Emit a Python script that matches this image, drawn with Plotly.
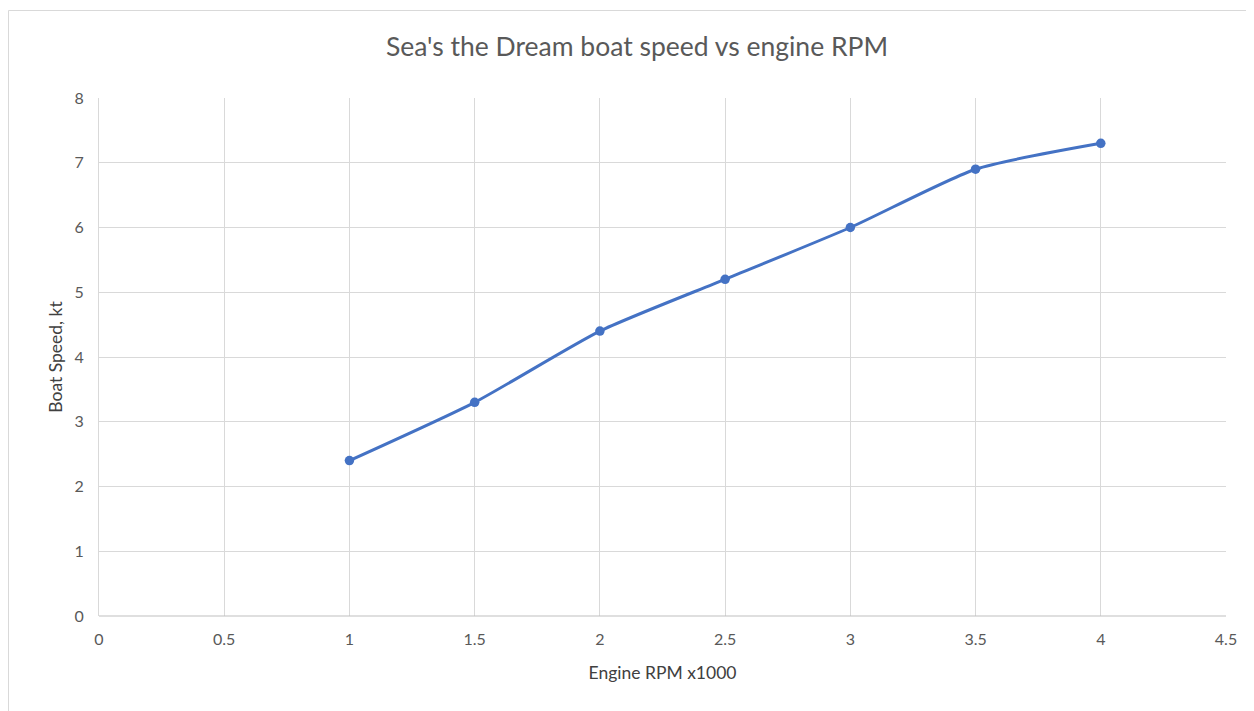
import plotly.graph_objects as go

rpm = [1, 1.5, 2, 2.5, 3, 3.5, 4]
speed = [2.4, 3.3, 4.4, 5.2, 6.0, 6.9, 7.3]
x_ticks = [0, 0.5, 1, 1.5, 2, 2.5, 3, 3.5, 4, 4.5]
x_tick_labels = ["0", "0.5", "1", "1.5", "2", "2.5", "3", "3.5", "4", "4.5"]
y_ticks = [0, 1, 2, 3, 4, 5, 6, 7, 8]

# page body has an 8px margin, so figure is offset by 8px
W, H = 1246, 703
L, R, T, B = 91, 28, 90, 95
pw, ph = W - L - R, H - T - B

font = "Lato, 'Open Sans', sans-serif"

fig = go.Figure()
fig.add_trace(go.Scatter(
    x=rpm, y=speed, mode="lines+markers",
    line=dict(color="#4472C4", width=3, shape="spline", smoothing=0.6),
    marker=dict(color="#4472C4", size=9.5),
    showlegend=False, hoverinfo="x+y",
))

fig.update_layout(
    width=W, height=H,
    margin=dict(l=L, r=R, t=T, b=B),
    paper_bgcolor="white", plot_bgcolor="white",
    font=dict(family=font, color="#595959", size=16),
    title=dict(text="Sea's the Dream boat speed vs engine RPM",
               x=629 / W, xanchor="center", y=1 - 39 / H, yanchor="middle",
               font=dict(size=26.5, color="#595959", family=font)),
    xaxis=dict(range=[0, 4.5], tickvals=x_ticks, ticktext=x_tick_labels,
               showgrid=True, gridcolor="#D9D9D9", gridwidth=1,
               zeroline=False, showline=False, ticks="",
               ticklabelstandoff=12,
               tickfont=dict(size=16, color="#595959"),
               title=dict(text="Engine RPM x1000", standoff=19,
                          font=dict(size=17.5, color="#404040"))),
    yaxis=dict(range=[0, 8], tickvals=y_ticks,
               showgrid=True, gridcolor="#D9D9D9", gridwidth=1,
               zeroline=False, showline=True, linecolor="#D9D9D9", mirror=False,
               ticks="", ticklen=0, ticklabelstandoff=11,
               tickfont=dict(size=16, color="#595959"),
               title=dict(text="Boat Speed, kt", standoff=7,
                          font=dict(size=17.5, color="#404040"))),
)

# bottom axis line (slightly darker)
fig.add_shape(type="line", xref="paper", yref="paper", x0=0, x1=1, y0=0, y1=0,
              line=dict(color="#BFBFBF", width=1))
# outer chart border
fig.add_shape(type="rect", xref="paper", yref="paper",
              x0=(0.5 - L) / pw, x1=(W + 20 - L) / pw,
              y0=-(B + 20) / ph, y1=(ph + T - 2.5) / ph,
              line=dict(color="#D9D9D9", width=1), fillcolor="rgba(0,0,0,0)", layer="below")

fig.write_html("out.html")
